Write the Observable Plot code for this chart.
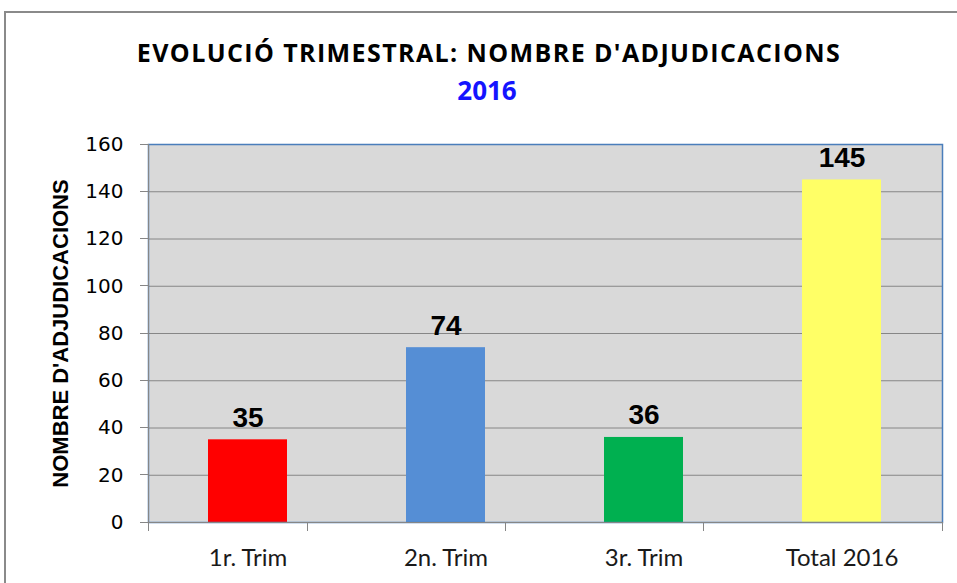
<!DOCTYPE html>
<html>
<head>
<meta charset="utf-8">
<script src="https://cdn.jsdelivr.net/npm/d3@7"></script>
<script src="https://cdn.jsdelivr.net/npm/@observablehq/plot@0.6"></script>
<style>
  html, body { margin: 0; padding: 0; background: #fff; width: 957px; height: 583px; overflow: hidden; }
  #border { position: absolute; left: 4px; top: 11px; width: 1000px; height: 1000px; border: 2px solid #8a8a8a; box-sizing: border-box; }
  #title { position: absolute; left: 0; width: 978px; top: 40px; text-align: center; font-family: "Open Sans"; font-weight: bold; font-size: 25px; line-height: 25px; letter-spacing: 1.4px; color: #000; white-space: nowrap; }
  #sub { position: absolute; left: 0; width: 974px; top: 77px; text-align: center; font-family: "Open Sans"; font-weight: bold; font-size: 26px; line-height: 26px; color: #1414ff; white-space: nowrap; }
  #chart { position: absolute; left: 0; top: 120px; }
</style>
</head>
<body>
<div id="border"></div>
<div id="title">EVOLUCIÓ TRIMESTRAL: NOMBRE D'ADJUDICACIONS</div>
<div id="sub">2016</div>
<div id="chart"></div>
<script>
const categories = ["1r. Trim", "2n. Trim", "3r. Trim", "Total 2016"];
const values = [35, 74, 36, 145];
const barColors = ["#FF0000", "#558ED5", "#00B050", "#FFFF66"];
const yTicks = [0, 20, 40, 60, 80, 100, 120, 140, 160];
const yTitle = "NOMBRE D'ADJUDICACIONS";

const data = categories.map((c, i) => ({category: c, value: values[i], color: barColors[i]}));

const gray = "#868686";

// custom axis decorations: left axis line, left tick marks, category boundary ticks
function axisDecor(index, scales, vals, dims) {
  const {width, height, marginLeft, marginRight, marginTop, marginBottom} = dims;
  const x = scales.x, y = scales.y;
  const g = d3.create("svg:g").attr("stroke", gray).attr("stroke-width", 1).attr("shape-rendering", "crispEdges");
  const left = marginLeft, right = width - marginRight, bottom = height - marginBottom;
  g.append("line").attr("x1", left).attr("x2", left).attr("y1", marginTop).attr("y2", bottom);
  for (const t of yTicks) {
    const yy = y(t);
    g.append("line").attr("x1", left - 8).attr("x2", left).attr("y1", yy).attr("y2", yy);
  }
  const starts = categories.map(c => x(c));
  const bounds = [left];
  for (let i = 0; i < starts.length - 1; i++) bounds.push((starts[i] + starts[i + 1]) / 2);
  bounds.push(right);
  for (const b of bounds) {
    g.append("line").attr("x1", b).attr("x2", b).attr("y1", bottom).attr("y2", bottom + 9);
  }
  return g.node();
}

const chart = Plot.plot({
  width: 957,
  height: 463,
  marginLeft: 148,
  marginRight: 15,
  marginTop: 24,
  marginBottom: 61,
  style: {fontFamily: "DejaVu Sans", fontSize: "20px", color: "#000", background: "transparent", overflow: "visible"},
  x: {domain: categories, paddingInner: 0.6, paddingOuter: 0.3, axis: null},
  y: {domain: [0, 160], ticks: yTicks, tickSize: 0, tickPadding: 25, label: null, tickFormat: d => String(d)},
  color: {type: "identity"},
  marks: [
    Plot.frame({fill: "#D9D9D9", stroke: "none"}),
    Plot.ruleY(yTicks.filter(t => t > 0 && t < 160), {stroke: gray, strokeWidth: 1}),
    Plot.barY(data, {x: "category", y: "value", fill: "color"}),
    Plot.frame({stroke: "#4A7EBB", strokeWidth: 1.5}),
    Plot.ruleY([0], {stroke: gray, strokeWidth: 1}),
    axisDecor,
    Plot.text(data, {x: "category", y: "value", text: d => String(d.value), lineAnchor: "bottom", dy: -13,
      fontFamily: "Liberation Sans", fontWeight: "bold", fontSize: 28, fill: "#000"}),
    Plot.text(data, {x: "category", frameAnchor: "bottom", text: "category", lineAnchor: "top", dy: 26,
      fontFamily: "Lato", fontSize: 24, fill: "#1a1a1a"}),
    Plot.text([yTitle], {frameAnchor: "left", text: d => d, rotate: -90, dx: -88, lineAnchor: "middle", textAnchor: "middle",
      fontFamily: "Liberation Sans", fontWeight: "bold", fontSize: 22, fill: "#000"})
  ]
});
document.getElementById("chart").appendChild(chart);
</script>
</body>
</html>
